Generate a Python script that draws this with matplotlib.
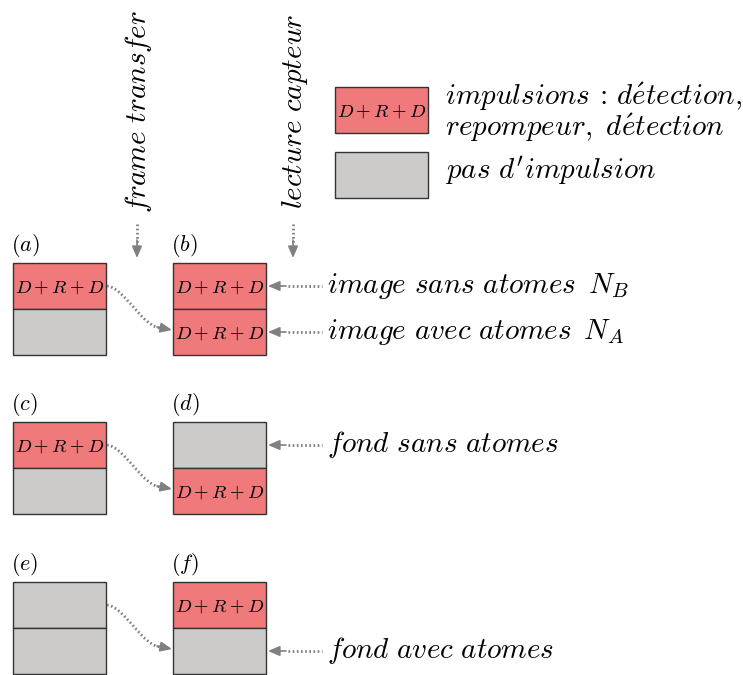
import matplotlib.pyplot as plt
from matplotlib.patches import Rectangle, PathPatch
from matplotlib.path import Path

plt.rcParams['mathtext.fontset'] = 'cm'

RED = '#f07a7b'
GRAY = '#cccbc9'
EDGE = '#333333'
ARR = '#808080'
DOTS = (0, (0.6, 0.9))

# panels: letter, column, row, top colour, bottom colour
letters = ['a', 'b', 'c', 'd', 'e', 'f']
tops = ['r', 'r', 'r', 'g', 'g', 'r']
bottoms = ['g', 'r', 'g', 'r', 'g', 'g']
col_x = [13, 173]
row_y = [263, 422, 582]
bw, bh = 93, 46

# side labels: (row, half, text)
side_labels = [
    (0, 0, r'$image\ sans\ atomes\ \,N_B$'),
    (0, 1, r'$image\ avec\ atomes\ \,N_A$'),
    (1, 0, r'$fond\ sans\ atomes$'),
    (2, 1, r'$fond\ avec\ atomes$'),
]

fig = plt.figure(figsize=(7.43, 6.75), dpi=100)
ax = fig.add_axes([0, 0, 1, 1])
ax.set_xlim(0, 743)
ax.set_ylim(675, 0)
ax.axis('off')

drd = r'$D+R+D$'
colours = {'r': RED, 'g': GRAY}
FS = 21


def box(x, y, c, label=False):
    ax.add_patch(Rectangle((x, y), bw, bh, facecolor=colours[c],
                           edgecolor=EDGE, lw=1.0))
    if label and c == 'r':
        ax.text(x + bw / 2, y + bh / 2 + 1, drd, fontsize=13.5,
                ha='center', va='center')


def arrowhead(x0, y0, x1, y1):
    ax.annotate('', xy=(x1, y1), xytext=(x0, y0),
                arrowprops=dict(arrowstyle='-|>,head_length=0.7,head_width=0.3',
                                color=ARR, lw=1.2, shrinkA=0, shrinkB=0))


for i, L in enumerate(letters):
    r, c = divmod(i, 2)
    x, y = col_x[c], row_y[r]
    box(x, y, tops[i], True)
    box(x, y + bh, bottoms[i], True)
    ax.text(x - 2, y - 4, r'$(%s)$' % L, fontsize=16, ha='left', va='bottom')

    if c == 0:
        # curved dotted transfer arrow
        p0 = (x + bw + 1, y + bh / 2)
        p3 = (col_x[1] - 12, y + bh * 1.5 - 4)
        verts = [p0, (p0[0] + 18, p0[1] + 2), (p3[0] - 18, p3[1]), p3]
        path = Path(verts, [Path.MOVETO, Path.CURVE4, Path.CURVE4, Path.CURVE4])
        ax.add_patch(PathPatch(path, fill=False, edgecolor=ARR, lw=2,
                               linestyle=DOTS))
        arrowhead(p3[0] - 4, p3[1] - 1, col_x[1] - 1, p3[1] + 2)

# side labels with horizontal arrows
for r, half, txt in side_labels:
    yc = row_y[r] + bh * half + bh / 2
    ax.plot([288, 322], [yc, yc], color=ARR, lw=2, linestyle=DOTS)
    arrowhead(286, yc, 268, yc)
    ax.text(327, yc, txt, fontsize=FS, ha='left', va='center')

# vertical labels and arrows
for xv, txt in [(137, r'$frame\ transfer$'), (293, r'$lecture\ capteur$')]:
    ax.text(xv + 2, 111, txt, fontsize=FS, rotation=90,
            ha='center', va='center')
    ax.plot([xv, xv], [224, 243], color=ARR, lw=2, linestyle=DOTS)
    arrowhead(xv, 240, xv, 258)

# legend
ax.add_patch(Rectangle((335, 87), bw, bh, facecolor=RED, edgecolor=EDGE, lw=1.0))
ax.text(335 + bw / 2, 87 + bh / 2 + 1, drd, fontsize=13.5, ha='center', va='center')
ax.add_patch(Rectangle((335, 152), bw, bh, facecolor=GRAY, edgecolor=EDGE, lw=1.0))
ax.text(445, 112,
        r'$impulsions\,:\,d\acute{e}tection,$' + '\n' +
        r'$repompeur,\ d\acute{e}tection$',
        fontsize=FS, ha='left', va='center', linespacing=0.95)
ax.text(445, 171, r"$pas\ d'impulsion$", fontsize=FS, ha='left', va='center')

fig.savefig('out.png', dpi=100)
